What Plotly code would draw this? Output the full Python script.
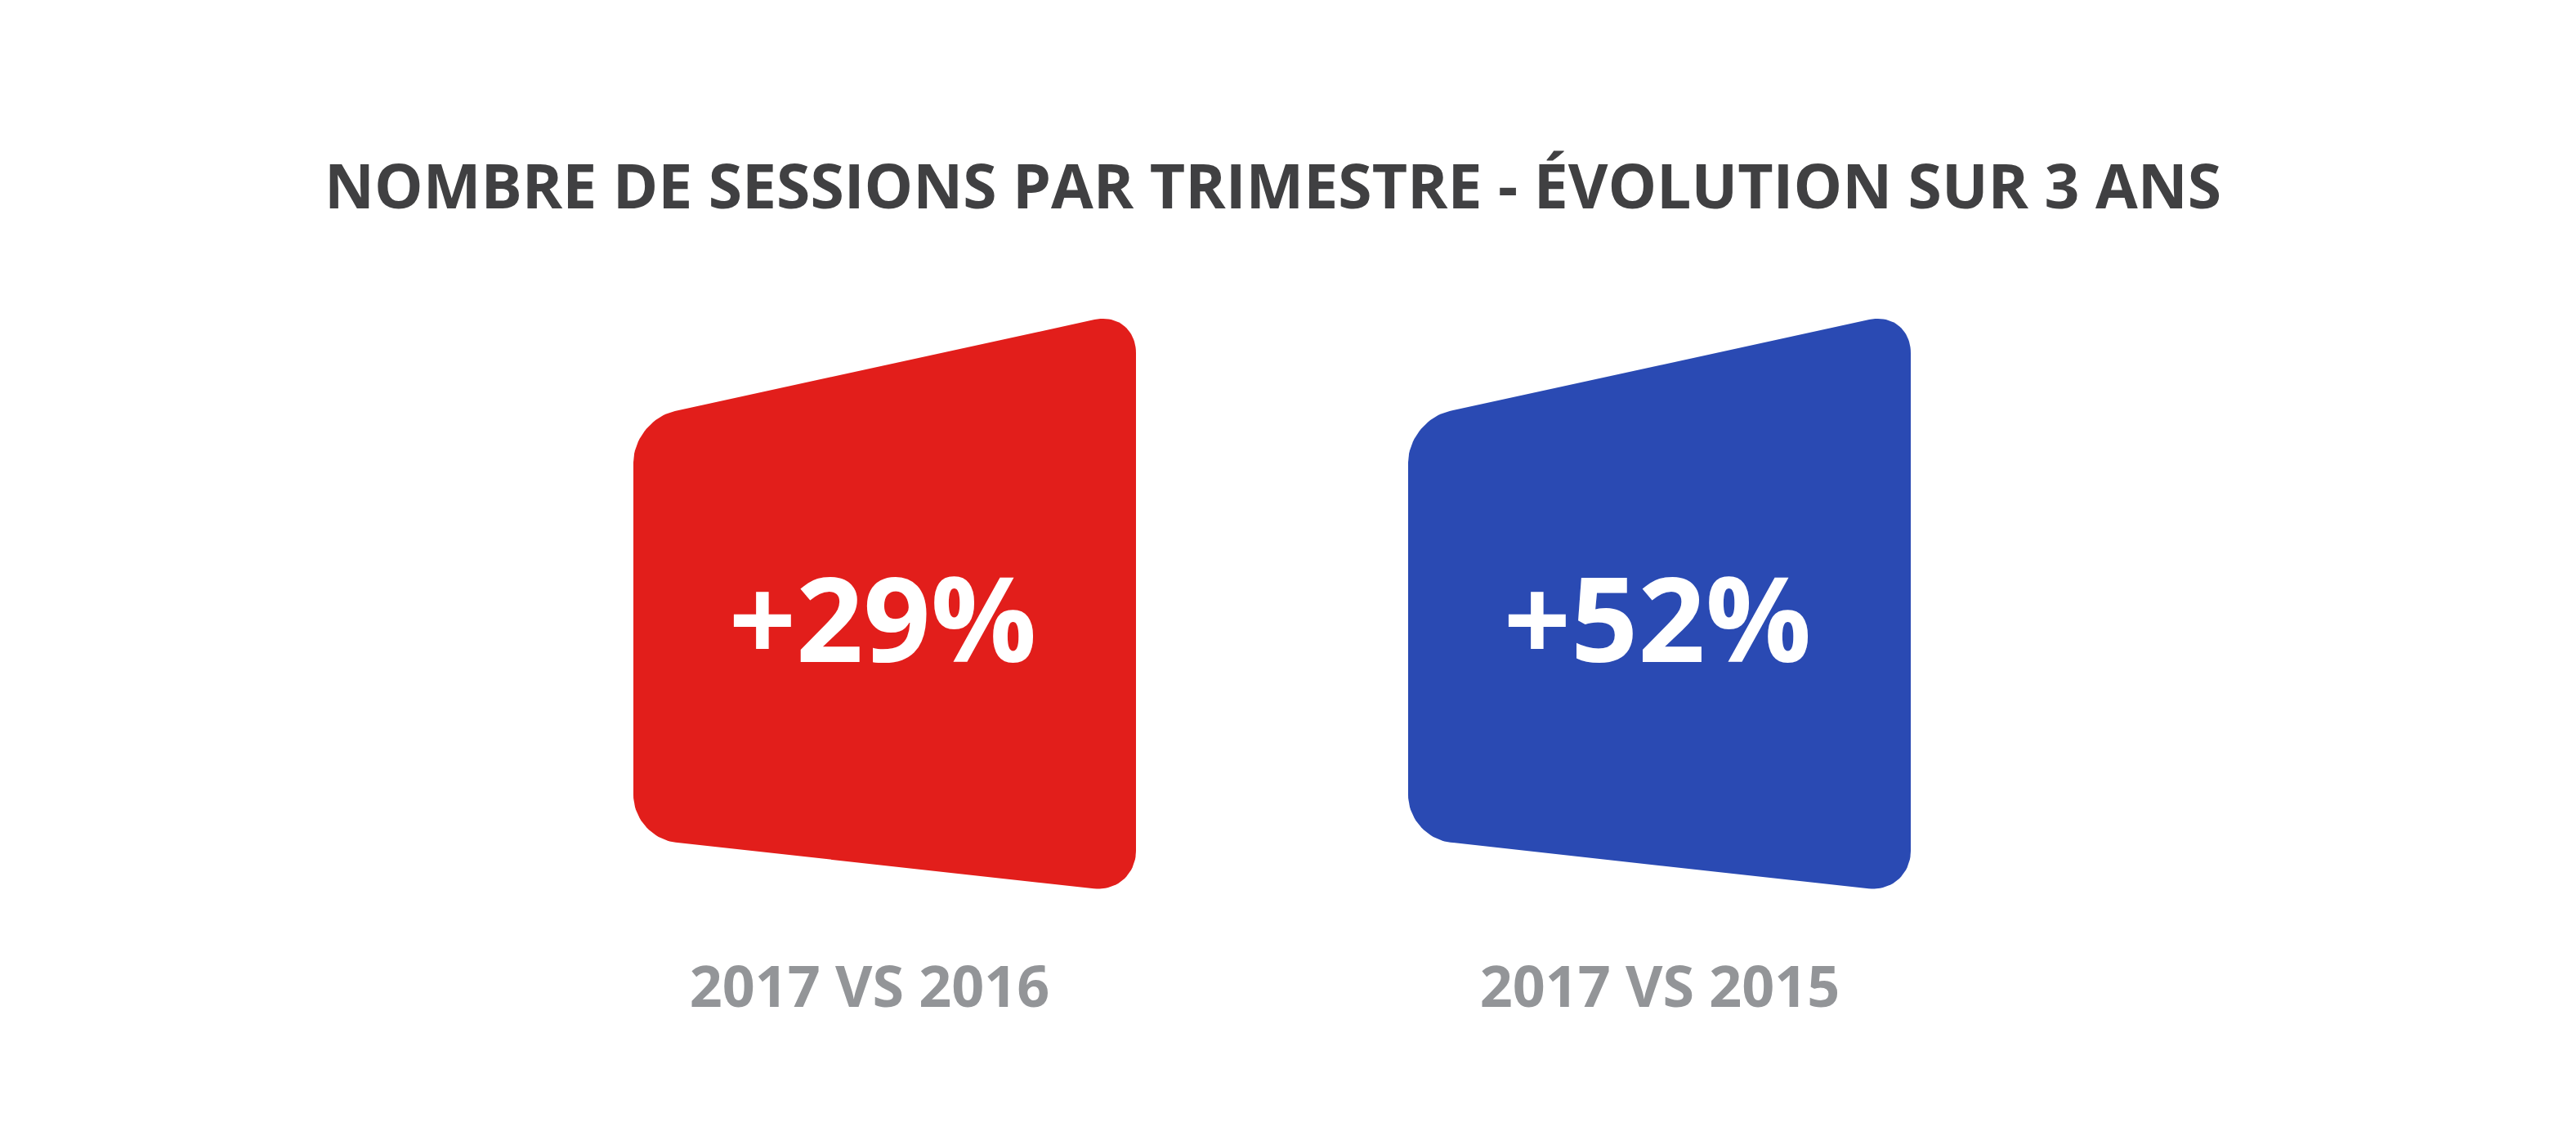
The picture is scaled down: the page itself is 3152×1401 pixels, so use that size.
import numpy as np
import plotly.graph_objects as go

# ---- data ----
categories = ["2017 VS 2016", "2017 VS 2015"]
values = [29, 52]
card_colors = ["#E21E1B", "#2A4AB3"]
title_text = "NOMBRE DE SESSIONS PAR TRIMESTRE - ÉVOLUTION SUR 3 ANS"

W, H = 3152, 1401
STEP = 948.0          # px between card centres
X0 = 1082.5           # px of first card centre
x_range = [-X0 / STEP, (W - X0) / STEP]
label_shift_px = [-18.5, 0.5]   # small horizontal nudges of the category labels

# card geometry in px (relative to centre x; y absolute, top-down)
HALF = 307.5
corners_px = [(-HALF, 514.0), (HALF, 380.0), (HALF, 1093.0), (-HALF, 1025.0)]
RADIUS = 52.0
K = 0.552


def rounded_poly(pts, r, n=24):
    out_x, out_y = [], []
    m = len(pts)
    for i in range(m):
        c = np.array(pts[i])
        p_prev = np.array(pts[i - 1])
        p_next = np.array(pts[(i + 1) % m])
        d_in = (p_prev - c) / np.linalg.norm(p_prev - c)
        d_out = (p_next - c) / np.linalg.norm(p_next - c)
        a = c + d_in * r
        b = c + d_out * r
        c1 = a + K * (c - a)
        c2 = b + K * (c - b)
        t = np.linspace(0, 1, n)[:, None]
        curve = ((1 - t) ** 3) * a + 3 * ((1 - t) ** 2) * t * c1 + 3 * (1 - t) * t ** 2 * c2 + t ** 3 * b
        out_x.extend(curve[:, 0])
        out_y.extend(curve[:, 1])
    out_x.append(out_x[0])
    out_y.append(out_y[0])
    return np.array(out_x), np.array(out_y)


px_x, px_y = rounded_poly(corners_px, RADIUS)

fig = go.Figure()
for i, (cat, val, col) in enumerate(zip(categories, values, card_colors)):
    fig.add_trace(go.Scatter(
        x=i + px_x / STEP, y=px_y, mode="lines", fill="toself",
        fillcolor=col, line=dict(width=0, color=col),
        hoverinfo="skip", showlegend=False,
    ))

idx = list(range(len(categories)))
# value labels
fig.add_trace(go.Scatter(
    x=[i - 2.5 / STEP for i in idx], y=[774] * len(idx), mode="text",
    text=[f"+{v}%" for v in values], textposition="middle center",
    textfont=dict(family="Open Sans", size=144, color="#FFFFFF", weight="bold"),
    hoverinfo="skip", showlegend=False,
))
# category labels
fig.add_trace(go.Scatter(
    x=[i + s / STEP for i, s in zip(idx, label_shift_px)], y=[1214] * len(idx), mode="text",
    text=categories, textposition="middle center",
    textfont=dict(family="Open Sans", size=70, color="#939598", weight="bold"),
    hoverinfo="skip", showlegend=False,
))

fig.add_annotation(
    text=title_text, xref="paper", yref="paper",
    x=1557 / W, y=1 - 226 / H, xanchor="center", yanchor="middle",
    showarrow=False,
    font=dict(family="Open Sans", size=75, color="#404042", weight="bold"),
)

fig.update_layout(
    width=W, height=H,
    margin=dict(l=0, r=0, t=0, b=0),
    paper_bgcolor="#FFFFFF", plot_bgcolor="#FFFFFF",
    xaxis=dict(range=x_range, visible=False, fixedrange=True),
    yaxis=dict(range=[H, 0], visible=False, fixedrange=True),
    showlegend=False,
)

fig.write_html(
    "out.html",
    config={"displayModeBar": False},
    post_script="document.body.style.margin='0';document.body.style.overflow='hidden';",
)
